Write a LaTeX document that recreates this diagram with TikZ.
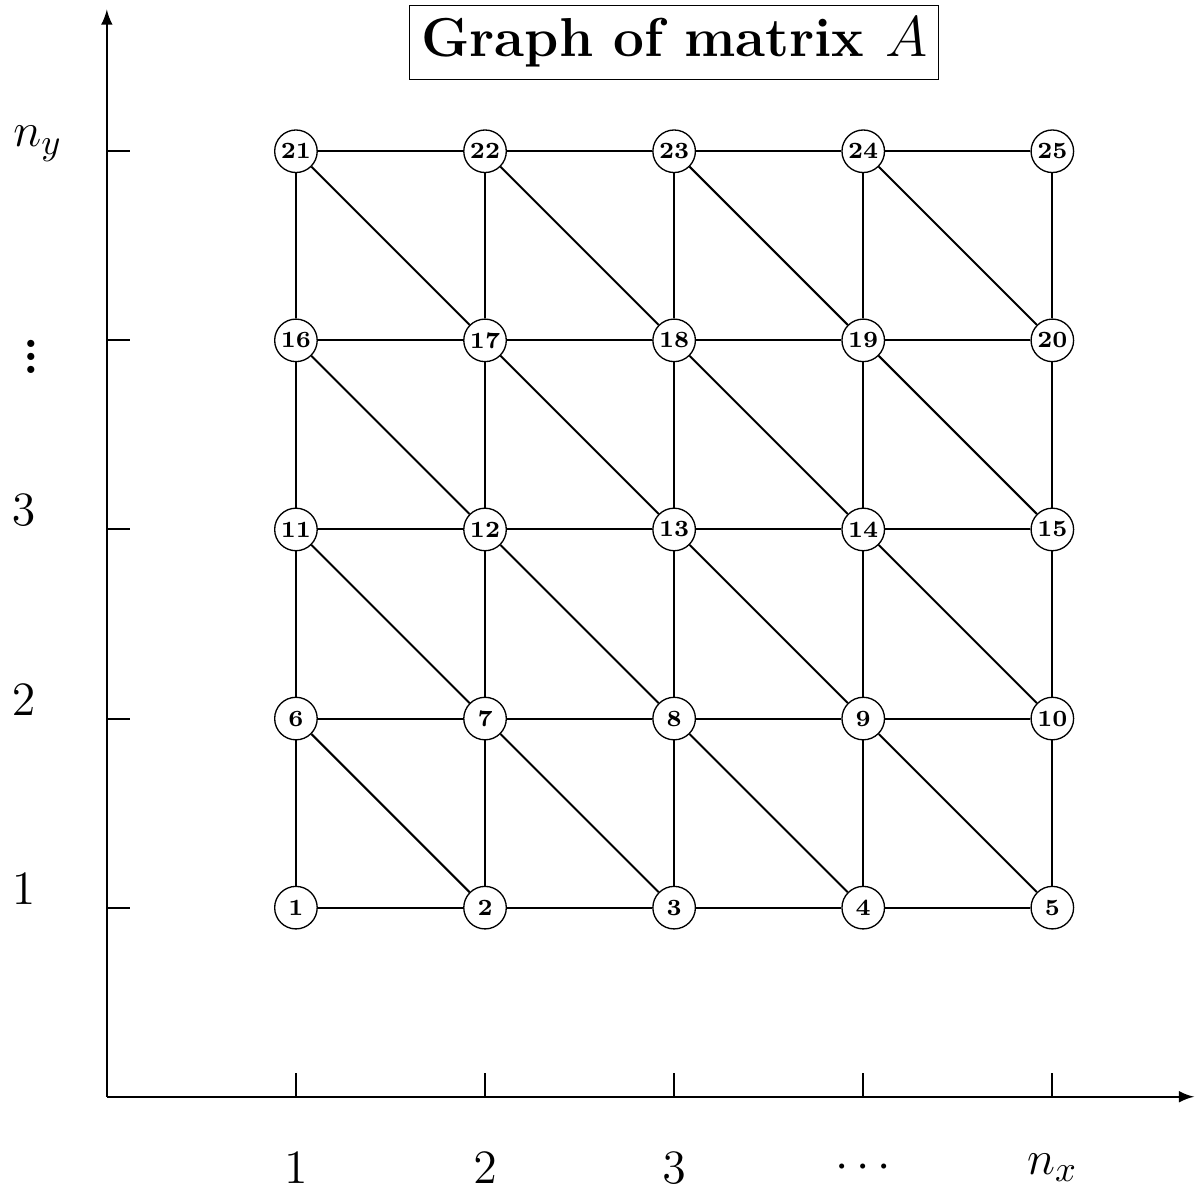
\documentclass[tikz,border=0pt]{standalone}
\usetikzlibrary{positioning}

\begin{document}
\begin{tikzpicture}[vertex/.style={circle,draw,fill=white,inner sep=0pt,minimum size=0.45cm,font=\scriptsize\bfseries},
    link/.style={semithick},
    tick/.style={semithick},
    lab/.style={font=\fontsize{15}{18}\selectfont}]
    \useasboundingbox (-1.13,-0.96) rectangle (11.53,11.6);
    % axes
    \coordinate (o) at (0,0);
    \coordinate (xend) at (11.5,0);
    \coordinate (yend) at (0,11.5);
    \draw[semithick,-latex] (o) -- (xend);
    \draw[semithick,-latex] (o) -- (yend);
    \foreach \i in {1,...,5} {
        \draw[tick] (2*\i,0) -- ++(0,0.25);
        \draw[tick] (0,2*\i) -- ++(0.25,0);
    }
    % axis labels
    \node[lab] (x1) at (2,-0.75) {$1$};
    \node[lab] (x2) at (4,-0.75) {$2$};
    \node[lab] (x3) at (6,-0.75) {$3$};
    \node[lab] (x4) at (8,-0.75) {$\cdots$};
    \node[lab] (x5) at (10,-0.75) {$n_x$};
    \node[lab] (y1) at (-0.88,2.2) {$1$};
    \node[lab] (y2) at (-0.88,4.2) {$2$};
    \node[lab] (y3) at (-0.88,6.2) {$3$};
    \node[lab] (y4) at (-0.8,7.93) {\bfseries\vdots};
    \node[lab] (y5) at (-0.73,10.08) {$n_y$};
    % title
    \node[draw,inner xsep=0.12cm,minimum height=0.78cm,font=\fontsize{16.5}{19}\selectfont\bfseries] (title) at (6,11.15) {Graph of matrix $A$};
    % vertices
    \foreach \r in {1,...,5}
        \foreach \c in {1,...,5} {
            \pgfmathtruncatemacro\k{(\r-1)*5+\c}
            \node[vertex] (v\k) at (2*\c,2*\r) {\k};
        }
    % edges
    \foreach \r in {1,...,5}
        \foreach \c in {1,...,4} {
            \pgfmathtruncatemacro\k{(\r-1)*5+\c}
            \pgfmathtruncatemacro\kk{\k+1}
            \draw[link] (v\k) -- (v\kk);
        }
    \foreach \r in {1,...,4}
        \foreach \c in {1,...,5} {
            \pgfmathtruncatemacro\k{(\r-1)*5+\c}
            \pgfmathtruncatemacro\kk{\k+5}
            \draw[link] (v\k) -- (v\kk);
        }
    \foreach \r in {1,...,4}
        \foreach \c in {1,...,4} {
            \pgfmathtruncatemacro\k{(\r-1)*5+\c+5}
            \pgfmathtruncatemacro\kk{\k-4}
            \draw[link] (v\k) -- (v\kk);
        }
\end{tikzpicture}
\end{document}
